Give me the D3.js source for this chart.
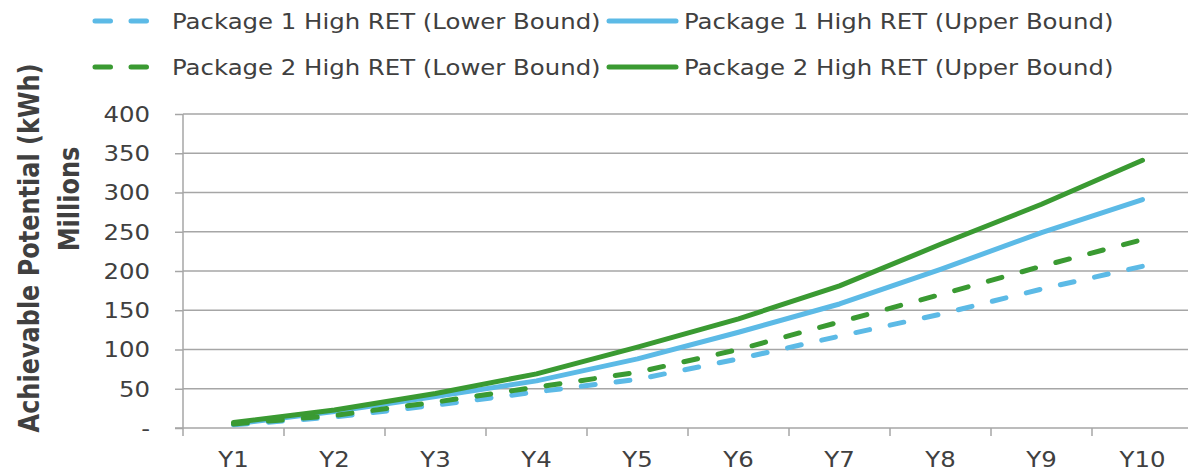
<!DOCTYPE html>
<html>
<head>
<meta charset="utf-8">
<script src="https://cdn.jsdelivr.net/npm/d3@7"></script>
<style>
  html, body { margin: 0; padding: 0; background: #ffffff; }
  svg { display: block; }
</style>
</head>
<body>
<svg id="chart" width="1188" height="472"></svg>
<script>
// ---- Data ----
const categories = ["Y1", "Y2", "Y3", "Y4", "Y5", "Y6", "Y7", "Y8", "Y9", "Y10"];
const p1Lower = [4, 14, 29, 46, 62, 88, 117, 145, 177, 206];
const p1Upper = [5, 21, 40, 60, 88, 122, 158, 202, 249, 291];
const p2Lower = [5, 16, 33, 52, 71, 100, 135, 170, 206, 240];
const p2Upper = [7, 23, 44, 69, 103, 139, 181, 234, 285, 341];
const yTicks = [0, 50, 100, 150, 200, 250, 300, 350, 400];
const seriesNames = [
  "Package 1 High RET (Lower Bound)",
  "Package 1 High RET (Upper Bound)",
  "Package 2 High RET (Lower Bound)",
  "Package 2 High RET (Upper Bound)"
];

// ---- Styles ----
const BLUE = "#5CBAE6";
const GREEN = "#3A9A32";
const GRID = "#A6A6A6";
const TXT = "#404040";
const SX = 1.19;
const FONT = "'DejaVu Sans', Verdana, sans-serif";

const series = [
  { name: seriesNames[0], values: p1Lower, color: BLUE, dashed: true },
  { name: seriesNames[1], values: p1Upper, color: BLUE, dashed: false },
  { name: seriesNames[2], values: p2Lower, color: GREEN, dashed: true },
  { name: seriesNames[3], values: p2Upper, color: GREEN, dashed: false }
];

const svg = d3.select("#chart");
const plotL = 183, plotR = 1193, plotT = 114, plotB = 428;

const x = d3.scaleBand().domain(categories).range([plotL, plotR]).padding(0);
const y = d3.scaleLinear().domain([0, 400]).range([plotB, plotT]);

// gridlines
svg.append("g").selectAll("line").data(yTicks.filter(d => d > 0)).join("line")
  .attr("x1", plotL).attr("x2", 1188)
  .attr("y1", d => y(d)).attr("y2", d => y(d))
  .attr("stroke", GRID).attr("stroke-width", 1.5);

// y axis
const yAxis = d3.axisLeft(y).tickValues(yTicks).tickSize(8).tickPadding(0)
  .tickFormat(d => d === 0 ? "-" : d3.format("d")(d));
const gy = svg.append("g").attr("transform", `translate(${plotL},0)`).call(yAxis);
gy.select(".domain").remove();
gy.selectAll(".tick line").attr("stroke", GRID).attr("stroke-width", 1.5);
gy.selectAll(".tick text")
  .attr("x", null).attr("dy", null)
  .attr("transform", `translate(-33,0) scale(${SX},1)`)
  .attr("dominant-baseline", "central")
  .attr("text-anchor", "end")
  .attr("fill", TXT)
  .style("font-family", FONT).style("font-size", "20.5px");
svg.append("line").attr("x1", plotL).attr("x2", plotL).attr("y1", plotT).attr("y2", plotB + 8)
  .attr("stroke", GRID).attr("stroke-width", 1.5);

// x axis
const xAxis = d3.axisBottom(x).tickSize(0).tickPadding(0);
const gx = svg.append("g").attr("transform", `translate(0,${plotB})`).call(xAxis);
gx.select(".domain").remove();
gx.selectAll(".tick text")
  .attr("y", null).attr("dy", null)
  .attr("transform", `translate(0,39) scale(${SX},1)`)
  .attr("text-anchor", "middle")
  .attr("fill", TXT)
  .style("font-family", FONT).style("font-size", "20.5px");
svg.append("line").attr("x1", plotL - 8).attr("x2", 1188).attr("y1", plotB).attr("y2", plotB)
  .attr("stroke", GRID).attr("stroke-width", 1.5);
svg.append("g").selectAll("line").data(categories.slice(1)).join("line")
  .attr("x1", d => x(d)).attr("x2", d => x(d))
  .attr("y1", plotB).attr("y2", plotB + 8)
  .attr("stroke", GRID).attr("stroke-width", 1.5);

// y axis titles
svg.append("text")
  .attr("transform", `translate(39,248) rotate(-90) scale(1,${SX})`)
  .attr("text-anchor", "middle")
  .attr("fill", TXT)
  .style("font-family", FONT).style("font-size", "24px").style("font-weight", "bold")
  .text("Achievable Potential (kWh)");
svg.append("text")
  .attr("transform", `translate(79,199) rotate(-90) scale(1,${SX})`)
  .attr("text-anchor", "middle")
  .attr("fill", TXT)
  .style("font-family", FONT).style("font-size", "24px").style("font-weight", "bold")
  .text("Millions");

// lines
const line = d3.line()
  .x((d, i) => x(categories[i]) + x.bandwidth() / 2)
  .y(d => y(d));

svg.append("g").selectAll("path").data(series).join("path")
  .attr("d", s => line(s.values))
  .attr("fill", "none")
  .attr("stroke", s => s.color)
  .attr("stroke-width", 5)
  .attr("stroke-linecap", "round")
  .attr("stroke-linejoin", "round")
  .attr("stroke-dasharray", s => s.dashed ? "14,21" : null);

// legend
const legendPos = [
  { lx1: 95, lx2: 148, tx: 172, ly: 21 },
  { lx1: 609, lx2: 676, tx: 684, ly: 21 },
  { lx1: 95, lx2: 148, tx: 172, ly: 67 },
  { lx1: 609, lx2: 676, tx: 684, ly: 67 }
];
const lg = svg.append("g").selectAll("g").data(series).join("g");
lg.append("line")
  .attr("x1", (s, i) => legendPos[i].lx1).attr("x2", (s, i) => legendPos[i].lx2)
  .attr("y1", (s, i) => legendPos[i].ly).attr("y2", (s, i) => legendPos[i].ly)
  .attr("stroke", s => s.color).attr("stroke-width", 5)
  .attr("stroke-linecap", "round")
  .attr("stroke-dasharray", s => s.dashed ? "15.5,20.5" : null);
lg.append("text")
  .attr("transform", (s, i) => `translate(${legendPos[i].tx},${legendPos[i].ly + 7.5}) scale(${SX},1)`)
  .attr("fill", TXT)
  .style("font-family", FONT).style("font-size", "20.5px")
  .text(s => s.name);
</script>
</body>
</html>
